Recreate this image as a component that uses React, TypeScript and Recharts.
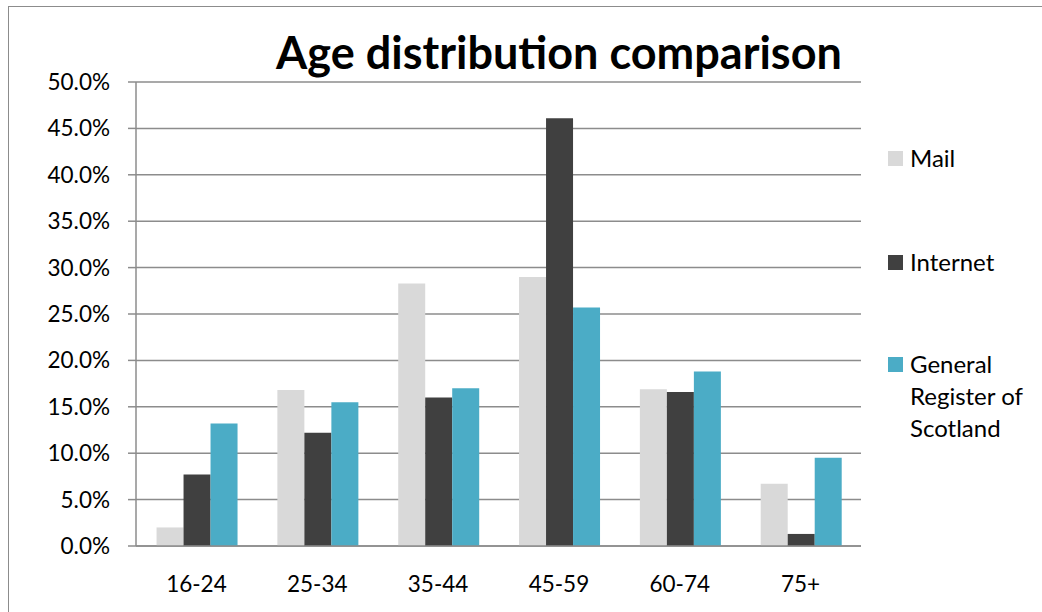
import { BarChart, Bar, XAxis, YAxis, CartesianGrid, Legend } from "recharts";

const FONT = "Lato, Carlito, Calibri, sans-serif";

const ageGroups = ["16-24", "25-34", "35-44", "45-59", "60-74", "75+"];
const mail = [2.0, 16.8, 28.3, 29.0, 16.9, 6.7];
const internet = [7.7, 12.2, 16.0, 46.1, 16.6, 1.3];
const generalRegister = [13.2, 15.5, 17.0, 25.7, 18.8, 9.5];
const yTicks = [0, 5, 10, 15, 20, 25, 30, 35, 40, 45, 50];
const edgeTicks = [0, 1, 2, 3, 4, 5, 6];

const series = [
  { key: "mail", name: "Mail", color: "#d9d9d9" },
  { key: "internet", name: "Internet", color: "#404040" },
  { key: "grs", name: "General Register of Scotland", color: "#4bacc6" },
];

const data = ageGroups.map((g, i) => ({
  group: g,
  mail: mail[i],
  internet: internet[i],
  grs: generalRegister[i],
}));

function LegendBox() {
  // rows sit at fixed heights down the right side; the box itself takes no room
  const rows = [
    { top: 0, lines: ["Mail"], color: series[0].color },
    { top: 104, lines: ["Internet"], color: series[1].color },
    { top: 206, lines: ["General", "Register of", "Scotland"], color: series[2].color },
  ];
  return (
    <div style={{ position: "relative", width: 0, height: 0, fontFamily: FONT, fontSize: 24, color: "#000" }}>
      {rows.map((r, i) => (
        <div key={i} style={{ position: "absolute", left: 0, top: r.top }}>
          <div style={{ position: "absolute", left: 0, top: 9, width: 15, height: 15, background: r.color }} />
          <div style={{ position: "absolute", left: 22, top: 0, lineHeight: "32px", whiteSpace: "nowrap", textAlign: "left" }}>
            {r.lines.map((l, j) => (
              <div key={j}>{l}</div>
            ))}
          </div>
        </div>
      ))}
    </div>
  );
}

export default function App() {
  return (
    <div style={{ position: "absolute", left: 0, top: 0, width: 1042, height: 612, background: "#fff", overflow: "hidden" }}>
      <div
        style={{
          position: "absolute",
          left: 8,
          top: 6,
          width: 1100,
          height: 700,
          border: "1.5px solid #8c8c8c",
        }}
      />
      <div
        style={{
          position: "absolute",
          left: 259,
          top: 30,
          width: 600,
          textAlign: "center",
          fontFamily: FONT,
          fontWeight: 700,
          fontSize: 45,
          lineHeight: "45px",
          color: "#000",
        }}
      >
        Age distribution comparison
      </div>
      <div style={{ position: "absolute", left: 0, top: 0 }}>
        <BarChart
          width={1042}
          height={612}
          data={data}
          margin={{ top: 82, right: 181, bottom: 36, left: 56 }}
          barCategoryGap="17%"
          barGap={0}
        >
          <CartesianGrid horizontal vertical={false} stroke="#8c8c8c" strokeWidth={1.5} />
          <XAxis
            xAxisId="edges"
            type="number"
            domain={[0, 6]}
            ticks={edgeTicks}
            height={0}
            tick={false}
            axisLine={false}
            tickLine={{ stroke: "#8c8c8c", strokeWidth: 1.5 }}
            tickSize={8}
          />
          <XAxis
            dataKey="group"
            height={30}
            axisLine={{ stroke: "#8c8c8c", strokeWidth: 1.5 }}
            tickLine={false}
            tickMargin={24}
            tick={{ fill: "#000", fontSize: 22.5, fontFamily: FONT }}
          />
          <YAxis
            width={80}
            domain={[0, 50]}
            ticks={yTicks}
            interval={0}
            axisLine={{ stroke: "#8c8c8c", strokeWidth: 1.5 }}
            tickLine={{ stroke: "#8c8c8c", strokeWidth: 1.5 }}
            tickSize={8}
            tickMargin={18}
            tickFormatter={(v: number) => v.toFixed(1) + "%"}
            tick={{ fill: "#000", fontSize: 22.5, fontFamily: FONT }}
          />
          <Legend
            content={() => <LegendBox />}
            wrapperStyle={{ left: 888, top: 142, width: 0, height: 0, right: "auto", bottom: "auto" }}
          />
          {series.map((s) => (
            <Bar key={s.key} dataKey={s.key} name={s.name} fill={s.color} isAnimationActive={false} />
          ))}
        </BarChart>
      </div>
    </div>
  );
}
